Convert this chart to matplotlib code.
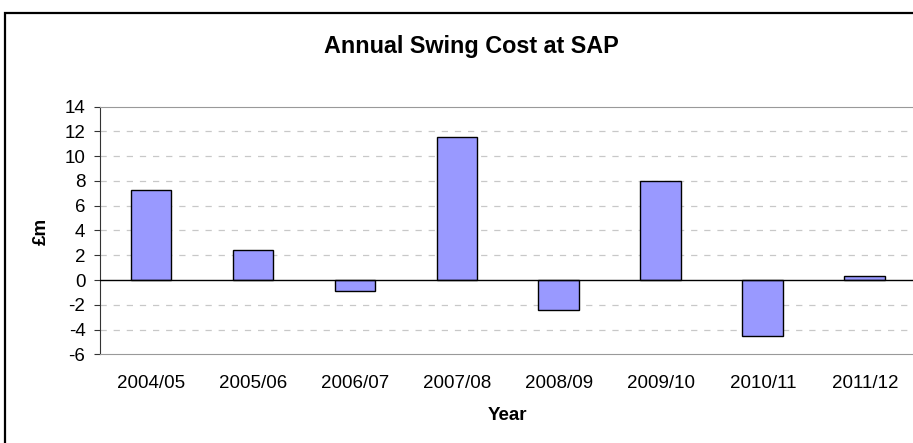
import matplotlib
matplotlib.use("Agg")
from matplotlib import pyplot as plt
from matplotlib.patches import Rectangle

years = ["2004/05", "2005/06", "2006/07", "2007/08", "2008/09", "2009/10", "2010/11", "2011/12"]
swing_cost = [7.3, 2.4, -0.85, 11.55, -2.45, 8.0, -4.55, 0.35]
y_ticks = list(range(-6, 15, 2))

plt.rcParams['font.family'] = ['Liberation Sans', 'DejaVu Sans']

W, H = 913, 443
fig = plt.figure(figsize=(W / 100, H / 100), dpi=100)

# outer chart border (cropped on right/bottom in the original)
fig.patches.append(Rectangle((5 / W, -0.1), 1.2, (H - 13) / H + 0.1, transform=fig.transFigure,
                             fill=False, edgecolor="black", linewidth=1.6))

ax_h = 354.3 - 106.7
ax_w = 815.8
ax = fig.add_axes([100 / W, (H - 354.3) / H, ax_w / W, ax_h / H])
x = range(len(years))
ax.bar(x, swing_cost, width=0.4, color="#9999ff", edgecolor="black", linewidth=1.0, zorder=3)
ax.axhline(0, color="black", linewidth=1.0, zorder=4)

ax.set_xlim(-0.5, len(years) - 0.5)
ax.set_ylim(-6, 14)
ax.set_yticks(y_ticks)
ax.set_yticklabels([str(v) for v in y_ticks], fontsize=13.5)
ax.set_xticks(list(x))
ax.set_xticklabels(years, fontsize=13.5)
ax.tick_params(axis="x", length=0, pad=15)
ax.tick_params(axis="y", length=4, direction="out", color="#333333", pad=6.5)

# dashed gridlines stop a little short of the right edge
for v in y_ticks:
    if v not in (0, -6, 14):
        ax.plot([-0.5, 7.43], [v, v], color="#c8c8c8", linewidth=0.9, dashes=(5, 5.5), zorder=1)

for side in ("top", "bottom"):
    ax.spines[side].set_color("#999999")
ax.spines["right"].set_visible(False)
ax.spines["left"].set_color("#333333")

ax.set_xlabel("Year", fontsize=13.5, fontweight="bold")
ax.xaxis.set_label_coords(0.5, (354.3 - 407.5) / ax_h)
ax.set_ylabel("£m", fontsize=13.5, fontweight="bold")
ax.yaxis.set_label_coords((50 - 100) / ax_w, 0.495)
fig.text(471.5 / W, (H - 46) / H, "Annual Swing Cost at SAP", ha="center", va="center",
         fontsize=16.8, fontweight="bold")

fig.savefig("out.png", dpi=100)
